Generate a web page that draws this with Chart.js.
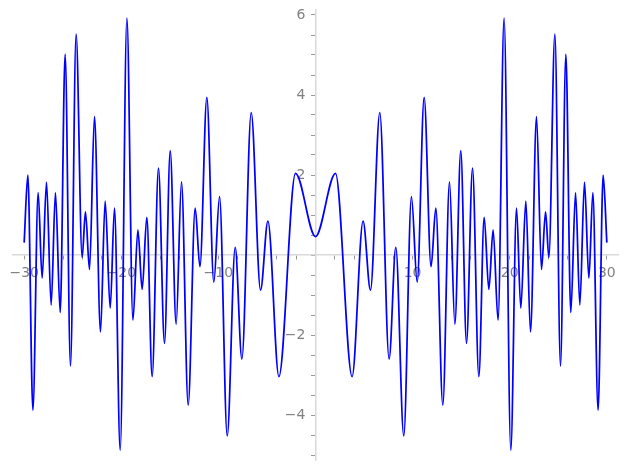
<!DOCTYPE html>
<html>
<head>
<meta charset="utf-8">
<script src="https://cdn.jsdelivr.net/npm/chart.js@4"></script>
<style>
  html, body { margin: 0; padding: 0; background: #fff; }
  .wrap { width: 627px; height: 469px; }
</style>
</head>
<body>
<div class="wrap"><canvas id="js-chart"></canvas></div>
<script>
// points (turning points of the curve plus the two ends)
const xValues = [
  -30, -29.62, -29.1, -28.56, -28.15, -27.7, -27.22, -26.78, -26.29, -25.78,
  -25.23, -24.65, -24.03, -23.69, -23.27, -22.76, -22.14, -21.66, -21.14, -20.7,
  -20.11, -19.42, -18.8, -18.29, -17.85, -17.37, -16.82, -16.17, -15.55, -14.96,
  -14.35, -13.8, -13.11, -12.39, -11.9, -11.19, -10.47, -9.88, -9.09, -8.27,
  -7.58, -6.62, -5.66, -4.9, -3.77, -2.06,
  0,
  2.06, 3.77, 4.9, 5.66, 6.62, 7.58, 8.27, 9.09, 9.88, 10.47,
  11.19, 11.9, 12.39, 13.11, 13.8, 14.35, 14.96, 15.55, 16.17, 16.82,
  17.37, 17.85, 18.29, 18.8, 19.42, 20.11, 20.7, 21.14, 21.66, 22.14,
  22.76, 23.27, 23.69, 24.03, 24.65, 25.23, 25.78, 26.29, 26.78, 27.22,
  27.7, 28.15, 28.56, 29.1, 29.62, 30
];
const yValues = [
  0.31, 2.0, -3.88, 1.56, -0.58, 1.82, -1.25, 1.56, -1.44, 5.02,
  -2.78, 5.52, -0.06, 1.08, -0.36, 3.46, -1.92, 1.35, -1.33, 1.17,
  -4.88, 5.92, -1.63, 0.63, -0.86, 0.94, -3.04, 2.17, -2.21, 2.61,
  -1.73, 1.83, -3.75, 1.17, -0.29, 3.94, -0.68, 1.46, -4.52, 0.19,
  -2.6, 3.56, -0.88, 0.85, -3.04, 2.04,
  0.46,
  2.04, -3.04, 0.85, -0.88, 3.56, -2.6, 0.19, -4.52, 1.46, -0.68,
  3.94, -0.29, 1.17, -3.75, 1.83, -1.73, 2.61, -2.21, 2.17, -3.04,
  0.94, -0.86, 0.63, -1.63, 5.92, -4.88, 1.17, -1.33, 1.35, -1.92,
  3.46, -0.36, 1.08, -0.06, 5.52, -2.78, 5.02, -1.44, 1.56, -1.25,
  1.82, -0.58, 1.56, -3.88, 2.0, 0.31
];

const xLabelled = [-30, -20, -10, 10, 20, 30];
const yLabelled = [-4, -2, 2, 4, 6];

const fmt = v => (v < 0 ? "\u2212" + Math.abs(v) : String(v));

const axisColor = "#d9d9d9";
const tickColor = "#999";
const labelColor = "#808080";

// a y axis placed at x = 0 ignores ticks.padding, so push its labels left by hand
const yLabelGap = {
  id: "yLabelGap",
  afterLayout(chart) {
    const items = chart.scales.y.getLabelItems();
    if (items._shifted)
      return;
    items.forEach(item => { item.options.translation[0] -= 10; });
    items._shifted = true;
  },
};

// keep the label overhang from eating into the plot area, the padding below decides it
const noOverhang = (scale) => {
  scale.paddingTop = 0;
  scale.paddingBottom = 0;
  scale.paddingLeft = 0;
  scale.paddingRight = 0;
};

const ctx = document.getElementById("js-chart");

new Chart(ctx, {
  type: "line",
  data: {
    datasets: [{
      data: xValues.map((x, i) => ({ x, y: yValues[i] })),
      borderColor: "#0000ff",
      borderWidth: 1.75,
      pointRadius: 0,
      cubicInterpolationMode: "monotone",
      fill: false,
    }],
  },
  plugins: [yLabelGap],
  options: {
    responsive: true,
    maintainAspectRatio: false,
    animation: false,
    events: [],
    layout: { padding: { left: 13, right: 9, top: 10, bottom: 9 } },
    plugins: {
      legend: { display: false },
      tooltip: { enabled: false },
    },
    scales: {
      x: {
        type: "linear",
        min: -31.15,
        max: 31.15,
        position: { y: 0 },
        afterFit: noOverhang,
        border: { display: true, color: axisColor, width: 1.5 },
        grid: { drawOnChartArea: false, drawTicks: true, tickLength: 4, color: tickColor },
        ticks: {
          stepSize: 2,
          includeBounds: false,
          autoSkip: false,
          maxRotation: 0,
          padding: 6,
          color: labelColor,
          font: { family: "DejaVu Sans", size: 14 },
          callback: v => (xLabelled.includes(v) ? fmt(v) : ""),
        },
      },
      y: {
        type: "linear",
        min: -5.125,
        max: 6.125,
        position: { x: 0 },
        afterFit: noOverhang,
        border: { display: true, color: axisColor, width: 1.5 },
        grid: { drawOnChartArea: false, drawTicks: true, tickLength: 4, color: tickColor },
        ticks: {
          stepSize: 0.5,
          includeBounds: false,
          autoSkip: false,
          color: labelColor,
          font: { family: "DejaVu Sans", size: 14 },
          callback: v => (yLabelled.includes(v) ? fmt(v) : ""),
        },
      },
    },
  },
});
</script>
</body>
</html>
